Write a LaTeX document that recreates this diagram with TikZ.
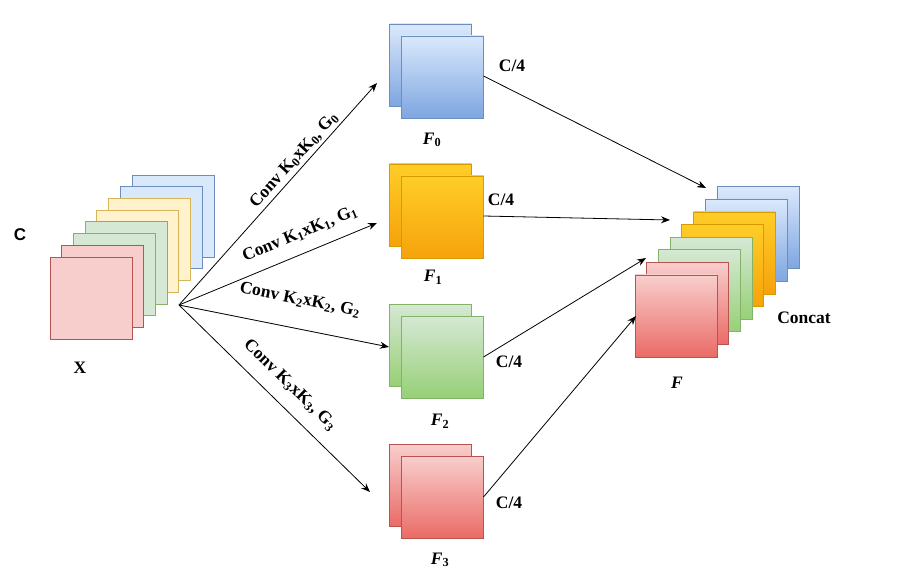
\documentclass[tikz,border=0pt]{standalone}
\usepackage{fontspec}
\setmainfont{Liberation Serif}
\newfontfamily\sff{Liberation Sans}
\usetikzlibrary{arrows.meta}
\definecolor{bF}{HTML}{DAE8FC}\definecolor{bD}{HTML}{7EA6E0}\definecolor{bS}{HTML}{6C8EBF}
\definecolor{yF}{HTML}{FFF2CC}\definecolor{yT}{HTML}{FFCD28}\definecolor{yD}{HTML}{F5A30A}\definecolor{yS}{HTML}{D6B656}\definecolor{yS2}{HTML}{D79B00}
\definecolor{gF}{HTML}{D5E8D4}\definecolor{gD}{HTML}{97D077}\definecolor{gS}{HTML}{82B366}
\definecolor{rF}{HTML}{F8CECC}\definecolor{rD}{HTML}{EA6B66}\definecolor{rS}{HTML}{B85450}
\tikzset{
 sq/.style={draw, line width=0.8pt, minimum size=82pt, inner sep=0pt, outer sep=0pt},
 fr/.style={sq, fill=rF, draw=rS}, fg/.style={sq, fill=gF, draw=gS},
 fy/.style={sq, fill=yF, draw=yS}, fb/.style={sq, fill=bF, draw=bS},
 gb/.style={sq, top color=bF, bottom color=bD, draw=bS},
 gy/.style={sq, top color=yT, bottom color=yD, draw=yS2},
 gg/.style={sq, top color=gF, bottom color=gD, draw=gS},
 gr/.style={sq, top color=rF, bottom color=rD, draw=rS},
 arr/.style={-{Stealth[length=9pt,width=7pt]}, line width=0.8pt},
 lab/.style={font=\fontsize{17.5}{20}\selectfont\bfseries, inner sep=0pt},
 flab/.style={font=\fontsize{17.5}{20}\selectfont\bfseries\itshape},
}
\begin{document}
\begin{tikzpicture}[x=1pt,y=-1pt]
\useasboundingbox (0,0) rectangle (899,577);
% left stack
\foreach \i/\s in {7/fb,6/fb,5/fy,4/fy,3/fg,2/fg,1/fr,0/fr}{
 \node[\s] (x\i) at ({91+11.7*\i},{298-11.7*\i}) {};
}
\node[font=\sff\fontsize{17}{20}\selectfont\bfseries] (c) at (20,235) {C};
\node[lab] (xl) at (80,368) {X};
\coordinate (o) at (179,305);
% middle pairs
\foreach \n/\y/\s in {0/65/gb,1/205/gy,2/345/gg,3/485/gr}{
 \node[\s] (b\n) at (430.5,\y) {};
 \node[\s] (f\n) at (442.5,{\y+12}) {};
}
\node[lab] (c0) at (512,66) {C/4};
\node[lab] (c1) at (501,200) {C/4};
\node[lab] (c2) at (509,362) {C/4};
\node[lab] (c3) at (509,503) {C/4};
\node[flab] (l0) at (432,140) {F$_{\mathbf 0}$};
\node[flab] (l1) at (433,277) {F$_{\mathbf 1}$};
\node[flab] (l2) at (440,421) {F$_{\mathbf 2}$};
\node[flab] (l3) at (440,560) {F$_{\mathbf 3}$};
% right stack
\foreach \i/\s in {7/gb,6/gb,5/gy,4/gy,3/gg,2/gg,1/gr,0/gr}{
 \node[\s] (r\i) at ({676+11.7*\i},{316-12.6*\i}) {};
}
\node[lab] (cc) at (804,318) {Concat};
\node[flab] (fl) at (677,383) {F};
% arrows
\coordinate (t0) at (377,83); \coordinate (t1) at (377,223);
\coordinate (t2) at (389,347); \coordinate (t3) at (370,492);
\foreach \n in {0,...,3}{\draw[arr] (o) -- (t\n);}
\node[lab, rotate=48] (k0) at (294,160) {Conv K$_{\mathbf 0}$xK$_{\mathbf 0}$, G$_{\mathbf 0}$};
\node[lab, rotate=22.5] (k1) at (300,234) {Conv K$_{\mathbf 1}$xK$_{\mathbf 1}$, G$_{\mathbf 1}$};
\node[lab, rotate=-11.3] (k2) at (300,300) {Conv K$_{\mathbf 2}$xK$_{\mathbf 2}$, G$_{\mathbf 2}$};
\node[lab, rotate=-44.4] (k3) at (290,385) {Conv K$_{\mathbf 3}$xK$_{\mathbf 3}$, G$_{\mathbf 3}$};
\coordinate (e0) at (706,188); \coordinate (e1) at (670,220);
\coordinate (e2) at (646,258); \coordinate (e3) at (636,316);
\draw[arr] (f0.east |- 0,76) -- (e0);
\draw[arr] (f1.east |- 0,216) -- (e1);
\draw[arr] (f2.east |- 0,357) -- (e2);
\draw[arr] (f3.east |- 0,497) -- (e3);
\end{tikzpicture}
\end{document}
